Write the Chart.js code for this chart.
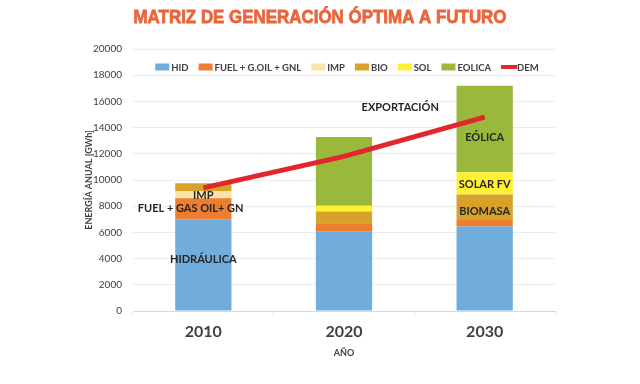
<!DOCTYPE html>
<html>
<head>
<meta charset="utf-8">
<script src="https://cdn.jsdelivr.net/npm/chart.js@4.4.1/dist/chart.umd.min.js"></script>
<style>
  html, body { margin: 0; padding: 0; background: #fff; }
  #wrap { width: 640px; height: 384px; }
</style>
</head>
<body>
<div id="wrap"><canvas id="matrizChart" width="640" height="384"></canvas></div>
<script>
// Years and generation by source (GWh)
var years = ["2010", "2020", "2030"];
var hid = [7000, 6050, 6450];
var fuel = [1600, 650, 500];
var imp = [550, 0, 0];
var bio = [600, 900, 1950];
var sol = [0, 430, 1700];
var eolica = [0, 5250, 6600];
var dem = [9400, 11800, 14800];

var yTicks = [0, 2000, 4000, 6000, 8000, 10000, 12000, 14000, 16000, 18000, 20000];

// Text written on the bars: [text, category position, value]
var notes = [
  ["HIDRÁULICA", 0, 3970],
  ["FUEL + GAS OIL+ GN", -0.09, 7860],
  ["IMP", 0, 8850],
  ["EXPORTACIÓN", 1.4, 15570],
  ["EÓLICA", 2, 13280],
  ["SOLAR FV", 2, 9690],
  ["BIOMASA", 2, 7630]
];

var labelFont = "Lato, 'Open Sans', sans-serif";

// Title, legend inside the plot, and bar labels
var textPlugin = {
  id: "texts",
  afterDatasetsDraw: function(chart) {
    var ctx = chart.ctx;
    var x = chart.scales.x, y = chart.scales.y;
    ctx.save();
    ctx.fillStyle = "#262626";
    ctx.font = "bold 11px " + labelFont;
    ctx.textAlign = "center";
    ctx.textBaseline = "middle";
    notes.forEach(function(n) {
      var x0 = x.getPixelForValue(0), x1 = x.getPixelForValue(1);
      ctx.fillText(n[0], x0 + (x1 - x0) * n[1], y.getPixelForValue(n[2]));
    });

    // legend
    ctx.font = "bold 9.5px " + labelFont;
    ctx.textAlign = "left";
    var sets = chart.data.datasets;
    var gap = 10;
    var total = 0;
    sets.forEach(function(d, i) {
      total += 16 + ctx.measureText(d.label).width + (i < sets.length - 1 ? gap : 0);
    });
    var area = chart.chartArea;
    var lx = (area.left + area.right) / 2 + 3 - total / 2;
    var ly = area.top + 18;
    sets.forEach(function(d) {
      ctx.fillStyle = d.backgroundColor;
      if (d.type === "line") ctx.fillRect(lx, ly - 2, 16, 4);
      else ctx.fillRect(lx, ly - 3.5, 14, 7);
      ctx.fillStyle = "#404040";
      ctx.fillText(d.label, lx + 16, ly + 0.5);
      lx += 16 + ctx.measureText(d.label).width + gap;
    });
    ctx.restore();
  },
  afterDraw: function(chart) {
    var ctx = chart.ctx;
    var txt = "MATRIZ DE GENERACIÓN ÓPTIMA A FUTURO";
    ctx.save();
    ctx.fillStyle = "#E8663D";
    ctx.strokeStyle = "#E8663D";
    ctx.lineWidth = 0.8;
    ctx.font = "bold 19px 'Liberation Sans', Arial, sans-serif";
    ctx.textAlign = "center";
    ctx.textBaseline = "middle";
    var w = ctx.measureText(txt).width;
    ctx.translate(320, 18);
    ctx.scale(373 / w, 1);
    ctx.fillText(txt, 0, 0);
    ctx.strokeText(txt, 0, 0);
    ctx.restore();
  }
};

function barSet(label, data, color) {
  return { type: "bar", label: label, data: data, backgroundColor: color, order: 1 };
}

new Chart(document.getElementById("matrizChart"), {
  data: {
    labels: years,
    datasets: [
      barSet("HID", hid, "#70ADDC"),
      barSet("FUEL + G.OIL + GNL", fuel, "#ED7D31"),
      barSet("IMP", imp, "#FCE4A8"),
      barSet("BIO", bio, "#D7A22A"),
      barSet("SOL", sol, "#FFF033"),
      barSet("EOLICA", eolica, "#99B83C"),
      {
        type: "line", label: "DEM", data: dem, stack: "dem",
        borderColor: "#E2262B", backgroundColor: "#E2262B",
        borderWidth: 5, pointRadius: 0, tension: 0, order: 0
      }
    ]
  },
  options: {
    responsive: false,
    animation: false,
    layout: { padding: { top: 49, right: 85, left: 80, bottom: 22 } },
    datasets: { bar: { categoryPercentage: 1, barPercentage: 0.4 } },
    plugins: {
      legend: { display: false },
      tooltip: { enabled: false }
    },
    scales: {
      x: {
        stacked: true,
        afterFit: function(s) { s.height = 51; },
        grid: { display: true, drawOnChartArea: false, offset: true, tickLength: 4, color: "#e3e3e3" },
        border: { color: "#d9d9d9" },
        ticks: { color: "#404040", padding: 7, font: { family: labelFont, size: 16, weight: "bold" } },
        title: { display: true, text: "AÑO", color: "#404040", font: { family: labelFont, size: 9, weight: "bold" } }
      },
      y: {
        stacked: true,
        min: 0, max: 20000,
        afterBuildTicks: function(s) { s.ticks = yTicks.map(function(v) { return { value: v }; }); },
        afterFit: function(s) { s.width = 53; },
        grid: { color: "#ececec", drawTicks: false },
        border: { display: false },
        ticks: {
          color: "#404040", padding: 11, font: { family: labelFont, size: 10 },
          callback: function(v) { return String(v); }
        },
        title: { display: true, text: "ENERGÍA ANUAL [GWh]", color: "#404040", font: { family: labelFont, size: 9, weight: "bold" } }
      }
    }
  },
  plugins: [textPlugin]
});
</script>
</body>
</html>
